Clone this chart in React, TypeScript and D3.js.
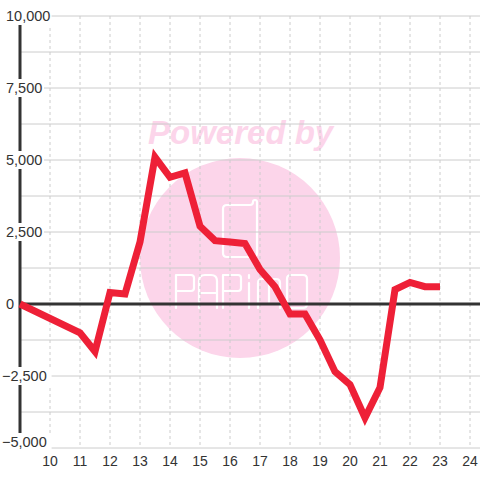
import React from "react";
import * as d3 from "d3";

const xValues = [9, 11, 11.5, 12, 12.5, 13, 13.5, 14, 14.5, 15, 15.5, 16, 16.5, 17, 17.5, 18, 18.5, 19, 19.5, 20, 20.5, 21, 21.5, 22, 22.5, 23];
const yValues = [0, -1000, -1650, 400, 350, 2150, 5100, 4400, 4550, 2700, 2200, 2150, 2100, 1200, 600, -350, -350, -1250, -2350, -2800, -3950, -2900, 500, 750, 600, 600];
const xTicks = [10, 11, 12, 13, 14, 15, 16, 17, 18, 19, 20, 21, 22, 23, 24];
const yGrid = [-5000, -3750, -2500, -1250, 0, 1250, 2500, 3750, 5000, 6250, 7500, 8750, 10000];
const yLabels = [-5000, -2500, 0, 2500, 5000, 7500, 10000];

function Logo() {
  const top = 275, bot = 308;
  const P = (x: number) => `M${x},${bot} V${top} H${x + 15} Q${x + 18},${top} ${x + 18},${top + 3} V${top + 13} Q${x + 18},${top + 16} ${x + 15},${top + 16} H${x}`;
  const A = (x: number) => `M${x},${bot} V${top + 6} Q${x},${top} ${x + 6},${top} H${x + 12} Q${x + 18},${top} ${x + 18},${top + 6} V${bot} M${x},${top + 18} H${x + 18}`;
  const I = (x: number) => `M${x},${top + 8} V${bot} M${x},${top} V${top + 3}`;
  const M = (x: number) => `M${x},${bot} V${top + 8} Q${x},${top + 4} ${x + 4},${top + 4} H${x + 18} Q${x + 22},${top + 4} ${x + 22},${top + 8} V${bot} M${x + 11},${top + 4} V${bot - 6}`;
  const O = (x: number) => `M${x + 4},${top} H${x + 16} Q${x + 20},${top} ${x + 20},${top + 4} V${bot - 4} Q${x + 20},${bot} ${x + 16},${bot} H${x + 4} Q${x},${bot} ${x},${bot - 4} V${top + 4} Q${x},${top} ${x + 4},${top} Z`;
  return (
    <g fill="none" stroke="#ffffff" strokeWidth={2.2} strokeLinecap="round" strokeLinejoin="round">
      <path d={P(176)} />
      <path d={A(199)} />
      <path d={P(223)} />
      <path d={I(249)} />
      <path d={M(258)} />
      <path d={O(287)} />
      <path d="M229,205 H250 Q253,205 253,202 Q253,200 255,200 Q257,200 257,202 V253 Q257,257 253,257 H227 Q223,257 223,253 V209 Q223,205 227,205 Z" />
    </g>
  );
}

export default function App() {
  const W = 480, H = 480;
  const x = d3.scaleLinear().domain([9, 24]).range([20, 470]);
  const y = d3.scaleLinear().domain([-5000, 10000]).range([448, 16]);
  const pts = xValues.map((v, i) => [x(v), y(yValues[i])] as [number, number]);
  const line = d3.line().curve(d3.curveLinear)(pts) || "";
  const fmt = d3.format(",");
  const bg = "#ffffff";
  const font = "'Liberation Sans', Arial, sans-serif";
  return (
    <svg width={W} height={H} style={{ position: "absolute", left: 0, top: 0 }}>
      <rect width={W} height={H} fill={bg} />
      {/* watermark */}
      <g>
        <circle cx={240} cy={258} r={100} fill="#fcd5ea" />
        <text x={148} y={144} fontFamily={font} fontWeight="bold" fontStyle="italic" fontSize={33} fill="#fcd5ea">Powered by</text>
        <Logo />
      </g>
      {/* grid */}
      {yGrid.map((v) => (
        <line key={"h" + v} x1={20} x2={480} y1={y(v)} y2={y(v)} stroke="#cccccc" strokeWidth={1} />
      ))}
      {xTicks.map((v) => (
        <line key={"v" + v} x1={x(v)} x2={x(v)} y1={16} y2={448} stroke="#cccccc" strokeWidth={1} strokeDasharray="3,3" />
      ))}
      {/* axes */}
      <line x1={20} x2={20} y1={16} y2={448} stroke="#333333" strokeWidth={3} />
      <line x1={20} x2={480} y1={y(0)} y2={y(0)} stroke="#333333" strokeWidth={3} />
      {/* y labels */}
      {yLabels.map((v) => {
        const t = fmt(v);
        const w = t.length * 7.6 + 4;
        const cy = v === -5000 ? y(v) - 6 : y(v);
        return (
          <g key={"yl" + v}>
            <rect x={2} y={cy - 9} width={w} height={18} fill={bg} />
            <text x={v < 0 ? 2 : 6} y={cy} dy="0.35em" fontFamily={font} fontSize={14.5} fill="#333333">{t}</text>
          </g>
        );
      })}
      {/* x labels */}
      {xTicks.map((v) => (
        <text key={"xl" + v} x={x(v)} y={461} dy="0.35em" textAnchor="middle" fontFamily={font} fontSize={14} fill="#333333">{v}</text>
      ))}
      {/* data line */}
      <path d={line} fill="none" stroke="#ee2037" strokeWidth={7} strokeLinejoin="miter" strokeLinecap="butt" />
    </svg>
  );
}
